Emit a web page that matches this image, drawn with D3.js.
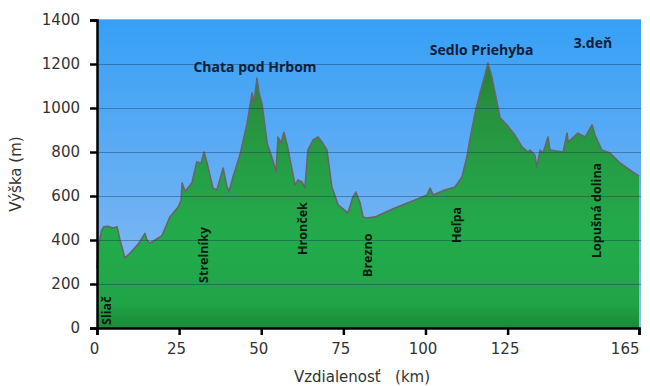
<!DOCTYPE html>
<html>
<head>
<meta charset="utf-8">
<script src="https://cdn.jsdelivr.net/npm/d3@7"></script>
<style>
  body { margin: 0; background: #fff; }
  svg { display: block; }
</style>
</head>
<body>
<svg id="chart" width="650" height="386"></svg>
<script>
// elevation profile
const km = [0, 0.6, 1.4, 2.1, 3.3, 4.9, 6.1, 7.0, 8.5, 10.0, 12.5, 14.6, 15.2, 16.1, 19.8, 22.2, 24.7, 25.6, 25.9, 26.8,
  28.9, 30.4, 31.7, 32.6, 33.5, 35.3, 36.5, 38.4, 39.6, 40.2, 41.4, 43.5, 45.7, 47.2, 47.8, 48.7, 49.3, 50.2, 51.8,
  53.3, 54.5, 55.1, 56.0, 56.9, 58.1, 59.4, 60.3, 61.2, 62.4, 63.3, 64.2, 65.8, 67.3, 68.5, 70.0, 71.5, 73.4, 76.4,
  77.9, 78.8, 80.1, 81.0, 82.2, 84.6, 90.7, 96.8, 100.5, 101.4, 102.3, 105.9, 109.0, 111.1, 112.6, 113.5, 115.1,
  116.6, 118.1, 119.0, 120.2, 121.8, 122.7, 124.8, 127.2, 129.4, 131.2, 131.8, 133.3, 133.9, 134.9, 135.8, 137.3,
  137.9, 141.9, 143.1, 143.4, 146.4, 148.6, 150.7, 151.6, 153.7, 156.2, 159.2, 162.3, 165];
const elev = [270, 380, 445, 460, 462, 455, 460, 400, 318, 340, 380, 430, 400, 385, 420, 505, 550, 580, 660, 620,
  660, 755, 750, 800, 750, 635, 627, 727, 640, 620, 686, 786, 930, 1068, 1027, 1136, 1068, 1022, 840,
  773, 710, 868, 840, 890, 818, 718, 650, 673, 664, 636, 809, 855, 868, 845, 809, 641, 560, 523,
  595, 618, 568, 505, 500, 505, 545, 582, 605, 636, 605, 627, 641, 686, 777, 855, 977,
  1068, 1150, 1204, 1141, 1022, 955, 923, 877, 823, 800, 809, 786, 732, 809, 795, 868,
  809, 800, 886, 845, 886, 868, 923, 877, 809, 795, 750, 718, 690];

const xTicks = [0, 25, 50, 75, 100, 125, 165];
const yTicks = [0, 200, 400, 600, 800, 1000, 1200, 1400];

// places along the route (vertical labels)
const placeNames = ["Sliač", "Strelníky", "Hronček", "Brezno", "Heľpa", "Lopušná dolina"];
const placeKm = [2.8, 32.5, 62.5, 82.3, 109.5, 152.2];
const placeBase = [14, 205, 332, 232, 386, 318];

// summit labels
const peakNames = ["Chata pod Hrbom", "Sedlo Priehyba", "3.deň"];
const peakKm = [48.1, 117.1, 151.0];
const peakElev = [1162, 1240, 1275];

const svg = d3.select("#chart");
const margin = { top: 20, right: 11, bottom: 58, left: 97 };
const width = 650 - margin.left - margin.right;
const height = 386 - margin.top - margin.bottom;

const x = d3.scaleLinear().domain([0, 165]).range([margin.left, margin.left + width]);
const y = d3.scaleLinear().domain([0, 1400]).range([margin.top + height, margin.top]);

const defs = svg.append("defs");
const sky = defs.append("linearGradient").attr("id", "sky")
  .attr("x1", 0).attr("y1", 0).attr("x2", 0).attr("y2", 1);
sky.append("stop").attr("offset", "0%").attr("stop-color", "#36a0f6");
sky.append("stop").attr("offset", "60%").attr("stop-color", "#6bb0f3");
sky.append("stop").attr("offset", "100%").attr("stop-color", "#8cc0ee");

const grass = defs.append("linearGradient").attr("id", "grass")
  .attr("gradientUnits", "userSpaceOnUse")
  .attr("x1", 0).attr("y1", y(1400)).attr("x2", 0).attr("y2", y(0));
grass.append("stop").attr("offset", "0%").attr("stop-color", "#206f32");
grass.append("stop").attr("offset", "30%").attr("stop-color", "#28923f");
grass.append("stop").attr("offset", "50%").attr("stop-color", "#25a046");
grass.append("stop").attr("offset", "72%").attr("stop-color", "#22ab4b");
grass.append("stop").attr("offset", "92%").attr("stop-color", "#21a448");
grass.append("stop").attr("offset", "100%").attr("stop-color", "#1a8a39");

// plot background
svg.append("rect")
  .attr("x", x(0)).attr("y", y(1400))
  .attr("width", x(165) - x(0) + 2).attr("height", y(0) - y(1400))
  .attr("fill", "url(#sky)");
svg.append("line")
  .attr("x1", x(0)).attr("x2", x(165) + 2)
  .attr("y1", y(1400) - 0.5).attr("y2", y(1400) - 0.5)
  .attr("stroke", "#86c4bb").attr("stroke-width", 1);

const profile = km.map((k, i) => ({ km: k, elev: elev[i] }));

const area = d3.area()
  .x(d => x(d.km))
  .y0(y(0))
  .y1(d => y(d.elev));

svg.append("path")
  .datum(profile)
  .attr("d", area)
  .attr("fill", "url(#grass)");

svg.append("path")
  .datum(profile)
  .attr("d", d3.line().x(d => x(d.km)).y(d => y(d.elev)))
  .attr("fill", "none")
  .attr("stroke", "#666")
  .attr("stroke-width", 1.6)
  .attr("stroke-linejoin", "round");

// grid lines over everything
svg.append("g")
  .selectAll("line")
  .data(yTicks.filter(t => t > 0 && t < 1400))
  .join("line")
  .attr("x1", x(0)).attr("x2", x(165) + 2)
  .attr("y1", d => y(d) + 0.5).attr("y2", d => y(d) + 0.5)
  .attr("stroke", "#14324f")
  .attr("stroke-opacity", 0.4)
  .attr("stroke-width", 1.2);

// place labels
svg.append("g")
  .selectAll("text")
  .data(placeNames)
  .join("text")
  .attr("transform", (d, i) => `translate(${x(placeKm[i])},${y(placeBase[i])}) rotate(-90)`)
  .attr("dy", "0.36em")
  .attr("font-family", "'Open Sans', sans-serif")
  .attr("font-weight", "bold")
  .attr("font-size", 12.5)
  .attr("fill", "#0e1a10")
  .text(d => d);

svg.append("g")
  .selectAll("text")
  .data(peakNames)
  .join("text")
  .attr("x", (d, i) => x(peakKm[i]))
  .attr("y", (d, i) => y(peakElev[i]))
  .attr("text-anchor", "middle")
  .attr("font-family", "'Open Sans', sans-serif")
  .attr("font-weight", "bold")
  .attr("font-size", 14)
  .attr("fill", "#13203a")
  .text(d => d);

// axes
const yAxis = svg.append("g")
  .attr("transform", `translate(${x(0)},0)`)
  .call(d3.axisLeft(y).tickValues(yTicks).tickSize(7).tickPadding(10).tickFormat(d3.format("d")));
const xAxis = svg.append("g")
  .attr("transform", `translate(0,${y(0)})`)
  .call(d3.axisBottom(x).tickValues(xTicks).tickSize(7).tickPadding(8));

[yAxis, xAxis].forEach(g => {
  g.select(".domain").attr("stroke", "#000").attr("stroke-width", 2.5);
  g.selectAll(".tick line").attr("stroke", "#000").attr("stroke-width", 2.5);
  g.selectAll(".tick text")
    .attr("font-family", "'DejaVu Sans', Verdana, sans-serif")
    .attr("font-size", 15)
    .attr("fill", "#333");
});
xAxis.selectAll(".tick text").attr("dx", -3);
xAxis.selectAll(".tick text").filter(d => d === 165).attr("text-anchor", "end").attr("dx", 0);

svg.append("text")
  .attr("transform", `translate(21,${(y(0) + y(1400)) / 2}) rotate(-90)`)
  .attr("text-anchor", "middle")
  .attr("font-family", "'DejaVu Sans', Verdana, sans-serif")
  .attr("font-size", 15)
  .attr("fill", "#333")
  .text("Výška (m)");

svg.append("text")
  .attr("x", 362)
  .attr("y", 382)
  .attr("text-anchor", "middle")
  .attr("font-family", "'DejaVu Sans', Verdana, sans-serif")
  .attr("font-size", 15)
  .attr("fill", "#333")
  .style("white-space", "pre")
  .text("Vzdialenosť   (km)");
</script>
</body>
</html>
